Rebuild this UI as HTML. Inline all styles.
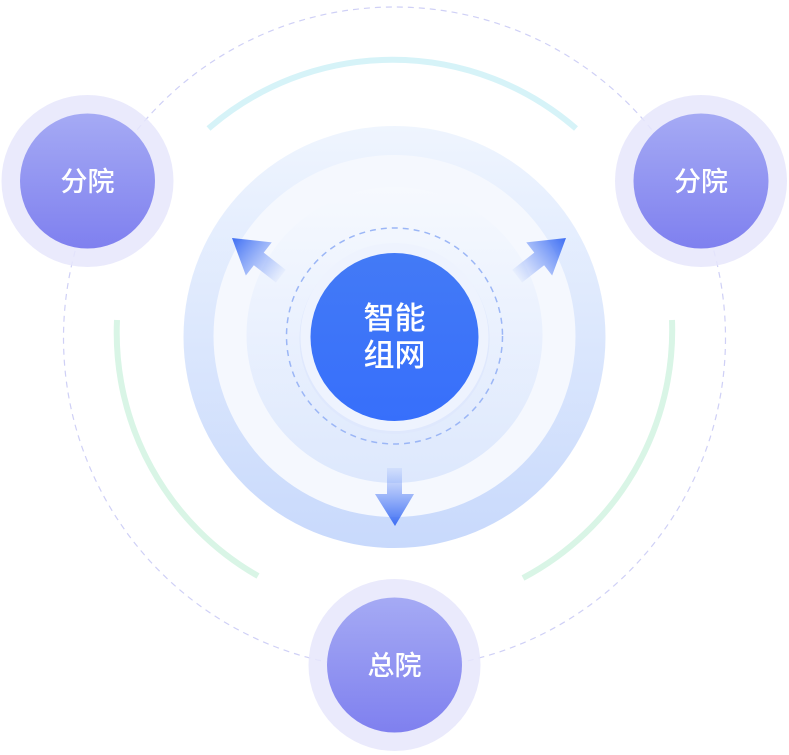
<!DOCTYPE html>
<html><head><meta charset="utf-8"><style>
html,body{margin:0;padding:0;background:#fff;}
svg{display:block;}
text{font-family:"Liberation Sans","Noto Sans CJK SC",sans-serif;fill:#fff;font-weight:500;}
</style></head><body>
<svg width="789" height="755" viewBox="0 0 789 755" xmlns="http://www.w3.org/2000/svg">
<defs>
<linearGradient id="disc" x1="0" y1="0" x2="0" y2="1"><stop offset="0" stop-color="#eff5fe"/><stop offset="1" stop-color="#c8d9fc"/></linearGradient>
<linearGradient id="ring3" x1="0" y1="0" x2="0" y2="1"><stop offset="0" stop-color="#f6f9fe"/><stop offset="1" stop-color="#dde8fd"/></linearGradient>
<linearGradient id="blue" x1="0" y1="0" x2="0" y2="1"><stop offset="0" stop-color="#437af6"/><stop offset="1" stop-color="#376ffb"/></linearGradient>
<linearGradient id="sat" x1="0" y1="0" x2="0" y2="1"><stop offset="0" stop-color="#a5aaf4"/><stop offset="1" stop-color="#7f80ef"/></linearGradient>
<linearGradient id="ad" x1="0" y1="0" x2="0" y2="1"><stop offset="0" stop-color="#5b85f6" stop-opacity="0.1"/><stop offset="1" stop-color="#3f6ff3"/></linearGradient>
<linearGradient id="al" x1="0" y1="1" x2="0" y2="0"><stop offset="0" stop-color="#5b85f6" stop-opacity="0.05"/><stop offset="1" stop-color="#3f6ff3"/></linearGradient>
</defs>
<circle cx="394.5" cy="338" r="331" fill="none" stroke="#cfd0f6" stroke-width="1.2" stroke-dasharray="6 5"/>
<path d="M208.5,128.5 A280,280 0 0 1 576,128.5" fill="none" stroke="#d6f3f8" stroke-width="6"/>
<path d="M117,320 A280,280 0 0 0 258,576" fill="none" stroke="#d9f5e6" stroke-width="6"/>
<path d="M672,320 A280,280 0 0 1 523,578" fill="none" stroke="#d9f5e6" stroke-width="6"/>
<circle cx="394.5" cy="337" r="211" fill="url(#disc)"/>
<circle cx="394.5" cy="336" r="181" fill="#f5f8fe"/>
<circle cx="394.5" cy="335" r="148" fill="url(#ring3)"/>
<circle cx="394.5" cy="336" r="108" fill="none" stroke="#9bb6f6" stroke-width="1.5" stroke-dasharray="6 5"/>
<circle cx="394.5" cy="339" r="95" fill="#dfe8fd"/>
<circle cx="394.5" cy="337" r="94" fill="#eef3fe"/>
<circle cx="394.5" cy="337" r="84" fill="url(#blue)"/>
<text x="394.5" y="329" font-size="31" text-anchor="middle">智能</text>
<text x="394.5" y="366" font-size="31" text-anchor="middle">组网</text>
<polygon points="387,468 402,468 402,494 414,494 395,526 375,494 387,494" fill="url(#ad)"/>
<g transform="translate(232,238) rotate(-52)"><polygon points="0,0 21,34 8,34 8,62 -8,62 -8,34 -21,34" fill="url(#al)"/></g>
<g transform="translate(566,238) rotate(52)"><polygon points="0,0 21,34 8,34 8,62 -8,62 -8,34 -21,34" fill="url(#al)"/></g>
<circle cx="87.5" cy="181" r="86" fill="#e6e6fb" fill-opacity="0.85"/>
<circle cx="87.5" cy="181" r="67.5" fill="url(#sat)"/>
<text x="87.5" y="191" font-size="27" text-anchor="middle">分院</text>
<circle cx="701" cy="181" r="86" fill="#e6e6fb" fill-opacity="0.85"/>
<circle cx="701" cy="181" r="67.5" fill="url(#sat)"/>
<text x="701" y="191" font-size="27" text-anchor="middle">分院</text>
<circle cx="394.5" cy="665" r="86" fill="#e6e6fb" fill-opacity="0.85"/>
<circle cx="394.5" cy="665" r="67.5" fill="url(#sat)"/>
<text x="394.5" y="675" font-size="27" text-anchor="middle">总院</text>
</svg>
</body></html>
